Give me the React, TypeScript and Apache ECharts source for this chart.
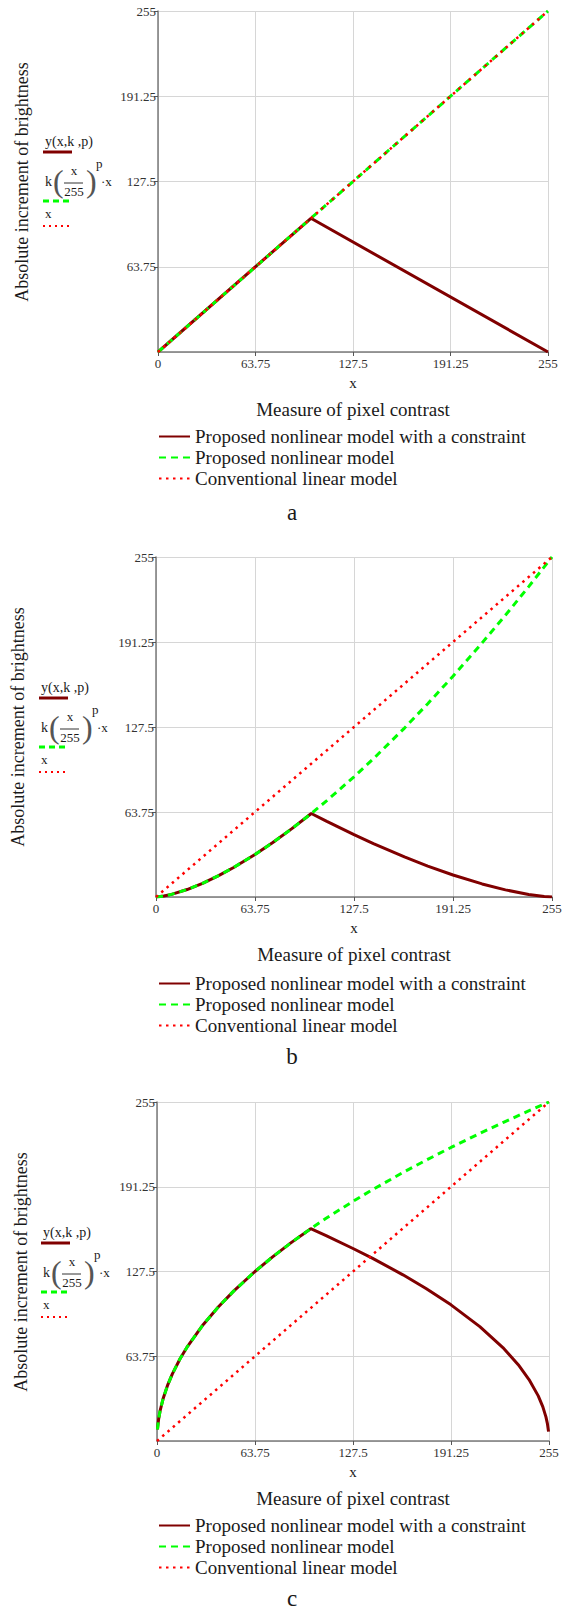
import React, { useEffect, useRef } from "react";
import * as echarts from "echarts";

// ---------- data ----------
const seriesNames = [
  "Proposed nonlinear model with a constraint",
  "Proposed nonlinear model",
  "Conventional linear model",
];
const panelLetters = ["a", "b", "c"];
const axisTicks = [0, 63.75, 127.5, 191.25, 255];

// panel a (p = 0)
const aConstrX = [0, 100, 255];
const aConstrY = [0, 100, 0];
const aModelX = [0, 255];
const aModelY = [0, 255];
const aLinearX = [0, 255];
const aLinearY = [0, 255];

// panel b (p = 0.5)
const bConstrX = [0, 5, 10, 20, 30, 40, 50, 63.75, 75, 87.5, 100, 110, 127.5, 140, 160, 175, 191.25, 210, 225, 240, 250, 255];
const bConstrY = [0, 0.7, 1.98, 5.6, 10.29, 15.84, 22.14, 31.88, 40.67, 51.26, 62.62, 56.66, 46.72, 40.02, 30.05, 23.22, 16.52, 9.8, 5.33, 1.89, 0.36, 0];
const bModelX = [0, 5, 10, 20, 30, 40, 50, 63.75, 75, 87.5, 100, 110, 127.5, 140, 160, 175, 191.25, 210, 225, 240, 255];
const bModelY = [0, 0.7, 1.98, 5.6, 10.29, 15.84, 22.14, 31.88, 40.67, 51.26, 62.62, 72.25, 90.15, 103.7, 126.7, 145.0, 165.6, 190.6, 211.3, 232.8, 255];
const bLinearX = [0, 255];
const bLinearY = [0, 255];

// panel c (p = -0.5)
const cConstrX = [0.3, 1, 2, 4, 7, 10, 15, 20, 30, 40, 50, 63.75, 75, 87.5, 100, 110, 127.5, 140, 160, 175, 191.25, 210, 225, 235, 242, 248, 251, 253, 254, 254.7];
const cConstrY = [8.75, 15.97, 22.58, 31.94, 42.25, 50.5, 61.85, 71.41, 87.46, 101.0, 112.9, 127.5, 138.3, 149.4, 159.7, 154.5, 144.8, 137.6, 125.0, 114.7, 102.4, 86.05, 70.25, 57.37, 46.25, 33.94, 25.65, 18.14, 12.83, 7.03];
const cModelX = [0.3, 1, 2, 4, 7, 10, 15, 20, 30, 40, 50, 63.75, 75, 87.5, 100, 110, 127.5, 140, 160, 175, 191.25, 210, 225, 240, 255];
const cModelY = [8.75, 15.97, 22.58, 31.94, 42.25, 50.5, 61.85, 71.41, 87.46, 101.0, 112.9, 127.5, 138.3, 149.4, 159.7, 167.5, 180.3, 188.9, 202.0, 211.2, 220.8, 231.4, 239.5, 247.4, 255];
const cLinearX = [0, 255];
const cLinearY = [0, 255];

// ---------- layout ----------
const W = 569;
const H = 1611;
const SERIF = "Liberation Serif";
const DARKRED = "#800000";
const GREEN = "#00ff00";
const RED = "#ff0000";
const LEGEND_FS = 19;

const panels = [
  {
    grid: { left: 158, top: 11, width: 390, height: 341 },
    constr: [aConstrX, aConstrY],
    model: [aModelX, aModelY],
    linear: [aLinearX, aLinearY],
    yTitle: { x: 22, y: 182 },
    inner: { x: 43, y: 141 },
    legendTop: 427,
    letterY: 512,
  },
  {
    grid: { left: 156, top: 557, width: 396, height: 340 },
    constr: [bConstrX, bConstrY],
    model: [bModelX, bModelY],
    linear: [bLinearX, bLinearY],
    yTitle: { x: 18, y: 727 },
    inner: { x: 39, y: 687 },
    legendTop: 974,
    letterY: 1056,
  },
  {
    grid: { left: 157, top: 1102, width: 392, height: 339 },
    constr: [cConstrX, cConstrY],
    model: [cModelX, cModelY],
    linear: [cLinearX, cLinearY],
    yTitle: { x: 21, y: 1272 },
    inner: { x: 41, y: 1232 },
    legendTop: 1516,
    letterY: 1598,
  },
];

const zip = (xs: number[], ys: number[]) => xs.map((x, i) => [x, ys[i]]);

function txt(x: number, y: number, text: string, size: number, align = "left", extra: any = {}) {
  const { fill, ...rest } = extra;
  return {
    type: "text",
    x,
    y,
    silent: true,
    ...rest,
    style: {
      text,
      font: `${size}px "Liberation Serif"`,
      fontFamily: SERIF,
      fontSize: size,
      fill: fill || "#1a1a1a",
      textAlign: align,
      textVerticalAlign: "middle",
      align,
      verticalAlign: "middle",
    },
  };
}

function seg(x1: number, x2: number, y: number, color: string, width: number, dash?: number[]) {
  return {
    type: "line",
    silent: true,
    shape: { x1, y1: y, x2, y2: y },
    style: { stroke: color, lineWidth: width, lineDash: dash || null },
  };
}

function buildOption() {
  const grids: any[] = [];
  const xAxes: any[] = [];
  const yAxes: any[] = [];
  const series: any[] = [];
  const legends: any[] = [];
  const graphics: any[] = [];

  panels.forEach((p, i) => {
    grids.push({ ...p.grid, containLabel: false });
    const common = {
      type: "value",
      gridIndex: i,
      min: axisTicks[0],
      max: axisTicks[axisTicks.length - 1],
      interval: axisTicks[1] - axisTicks[0],
      axisLine: { show: true, lineStyle: { color: "#7a7a7a", width: 1.5 } },
      axisTick: { show: true, length: 4, lineStyle: { color: "#555", width: 1 } },
      splitLine: { show: true, lineStyle: { color: "#d6d6d6", width: 1 } },
    };
    xAxes.push({
      ...common,
      axisLabel: { fontFamily: SERIF, fontSize: 13, color: "#333", margin: 5 },
    });
    yAxes.push({
      ...common,
      axisLabel: { fontFamily: SERIF, fontSize: 13, color: "#333", margin: 2, showMinLabel: false },
    });

    series.push({
      type: "line",
      name: seriesNames[0],
      xAxisIndex: i,
      yAxisIndex: i,
      data: zip(p.constr[0], p.constr[1]),
      symbol: "none",
      z: 2,
      lineStyle: { color: DARKRED, width: 3 },
      itemStyle: { color: DARKRED },
    });
    series.push({
      type: "line",
      name: seriesNames[1],
      xAxisIndex: i,
      yAxisIndex: i,
      data: zip(p.model[0], p.model[1]),
      symbol: "none",
      z: 3,
      lineStyle: { color: GREEN, width: 3, type: [7, 5] },
      itemStyle: { color: GREEN },
    });
    series.push({
      type: "line",
      name: seriesNames[2],
      xAxisIndex: i,
      yAxisIndex: i,
      data: zip(p.linear[0], p.linear[1]),
      symbol: "none",
      z: 4,
      lineStyle: { color: RED, width: 2.5, type: [2.5, 4.5] },
      itemStyle: { color: RED },
    });

    legends.push({
      orient: "vertical",
      left: 158,
      top: p.legendTop,
      padding: 0,
      itemWidth: 31,
      itemHeight: 14,
      itemGap: 2,
      selectedMode: false,
      itemStyle: { opacity: 0 },
      data: seriesNames,
      textStyle: { fontFamily: SERIF, fontSize: LEGEND_FS, color: "#1a1a1a" },
    });

    const g = p.grid;
    const cx = g.left + g.width / 2;
    const bottom = g.top + g.height;
    graphics.push(txt(cx, bottom + 31, "x", 15, "center"));
    graphics.push(txt(cx, bottom + 57, "Measure of pixel contrast", LEGEND_FS, "center"));
    graphics.push(txt(292, p.letterY, panelLetters[i], 23, "center"));
    graphics.push(
      txt(p.yTitle.x, p.yTitle.y, "Absolute increment of brightness", 18, "center", {
        rotation: Math.PI / 2,
      })
    );
    const bx = p.inner.x;
    const by = p.inner.y;
    graphics.push(txt(bx + 2, by, "y(x,k ,p)", 14));
    graphics.push(seg(bx, bx + 29, by + 11, DARKRED, 3));
    graphics.push(txt(bx + 2, by + 40, "k", 14));
    graphics.push(txt(bx + 10, by + 40, "(", 32, "left", { fill: "#555" }));
    graphics.push(txt(bx + 31, by + 29, "x", 13, "center"));
    graphics.push(seg(bx + 21, bx + 40, by + 42, "#333", 1));
    graphics.push(txt(bx + 31, by + 50, "255", 13, "center"));
    graphics.push(txt(bx + 43, by + 40, ")", 32, "left", { fill: "#555" }));
    graphics.push(txt(bx + 53, by + 22, "p", 13));
    graphics.push(txt(bx + 58, by + 40, "·x", 13));
    graphics.push(seg(bx, bx + 29, by + 60, GREEN, 3, [6, 4]));
    graphics.push(txt(bx + 2, by + 72, "x", 13));
    graphics.push(seg(bx, bx + 29, by + 85, RED, 2, [2, 4]));
  });

  return {
    animation: false,
    backgroundColor: "#ffffff",
    textStyle: { fontFamily: SERIF },
    grid: grids,
    xAxis: xAxes,
    yAxis: yAxes,
    legend: legends,
    series,
    graphic: graphics,
  };
}

export default function App() {
  const ref = useRef<HTMLDivElement>(null);
  useEffect(() => {
    if (!ref.current) return;
    const chart = echarts.init(ref.current, undefined, { renderer: "svg" });
    chart.setOption(buildOption() as any);
    return () => chart.dispose();
  }, []);
  return (
    <div
      ref={ref}
      style={{ position: "absolute", left: 0, top: 0, width: W, height: H, background: "#fff" }}
    />
  );
}
